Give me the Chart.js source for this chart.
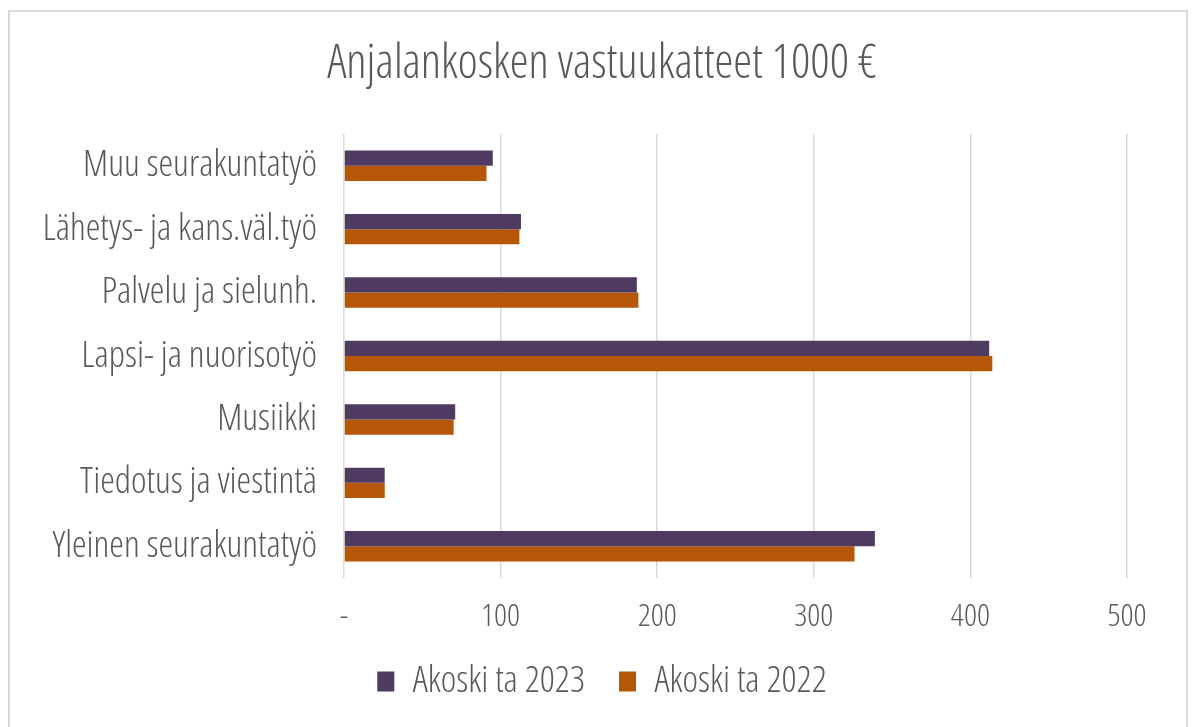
<!DOCTYPE html>
<html>
<head>
<meta charset="utf-8">
<script src="https://cdn.jsdelivr.net/npm/chart.js@4"></script>
<style>
  body { margin: 0; background: #fff; }
  #frame {
    position: absolute; left: 8px; top: 10px;
    width: 1176px; height: 730px;
    border: 2px solid #d9d9d9;
  }
</style>
</head>
<body>
<div id="frame"><canvas id="chart" width="1176" height="715"></canvas></div>
<script>
// Chart data
const categories = ['Muu seurakuntatyö', 'Lähetys- ja kans.väl.työ', 'Palvelu ja sielunh.',
    'Lapsi- ja nuorisotyö', 'Musiikki', 'Tiedotus ja viestintä', 'Yleinen seurakuntatyö'];
const values2023 = [95, 113, 187, 412, 71, 26, 339];
const values2022 = [91, 112, 188, 414, 70, 26, 326];
const xTicks = [0, 100, 200, 300, 400, 500];

// Light Open Sans squeezed to its condensed width (the "weight" slot also carries the stretch keyword)
const FAMILY = "'Open Sans', 'Roboto Condensed', sans-serif";
const STRETCH = '300 condensed';
const TEXT = '#595959';

const ctx = document.getElementById('chart').getContext('2d');
new Chart(ctx, {
    type: 'bar',
    data: {
        labels: categories,
        datasets: [{
            label: 'Akoski ta 2023',
            data: values2023,
            backgroundColor: '#4f3b62'
        }, {
            label: 'Akoski ta 2022',
            data: values2022,
            backgroundColor: '#b65708'
        }]
    },
    options: {
        indexAxis: 'y',
        responsive: false,
        animation: false,
        layout: { padding: { top: 0, right: 0, bottom: 17, left: 8 } },
        datasets: { bar: { categoryPercentage: 0.48, barPercentage: 1.0 } },
        scales: {
            x: {
                min: 0, max: 500,
                afterBuildTicks: (scale) => { scale.ticks = xTicks.map(v => ({ value: v })); },
                afterFit: (scale) => { scale.height = 51; },
                ticks: {
                    color: TEXT,
                    font: { family: FAMILY, size: 32, weight: STRETCH },
                    padding: 20,
                    callback: (v) => v === 0 ? '-' : v
                },
                grid: { color: '#d9d9d9', lineWidth: 1.5, drawTicks: false },
                border: { display: false }
            },
            y: {
                afterFit: (scale) => { scale.width = 326; },
                ticks: {
                    color: TEXT,
                    font: { family: FAMILY, size: 37, weight: STRETCH },
                    padding: 27
                },
                grid: { display: false, drawTicks: false },
                border: { display: false }
            },
            // empty spacer on the right so title and legend centre on the whole frame
            yRight: {
                type: 'category',
                position: 'right',
                afterFit: (scale) => { scale.width = 59; },
                ticks: { display: false },
                grid: { display: false, drawTicks: false },
                border: { display: false }
            }
        },
        plugins: {
            title: {
                display: true,
                text: 'Anjalankosken vastuukatteet 1000 €',
                color: TEXT,
                font: { family: FAMILY, size: 47.5, weight: STRETCH },
                padding: { top: 24, bottom: 41 }
            },
            legend: {
                position: 'bottom',
                labels: {
                    color: TEXT,
                    font: { family: FAMILY, size: 37, weight: STRETCH },
                    boxWidth: 17,
                    boxHeight: 20,
                    padding: 34
                }
            },
            tooltip: { enabled: false }
        }
    }
});
</script>
</body>
</html>
